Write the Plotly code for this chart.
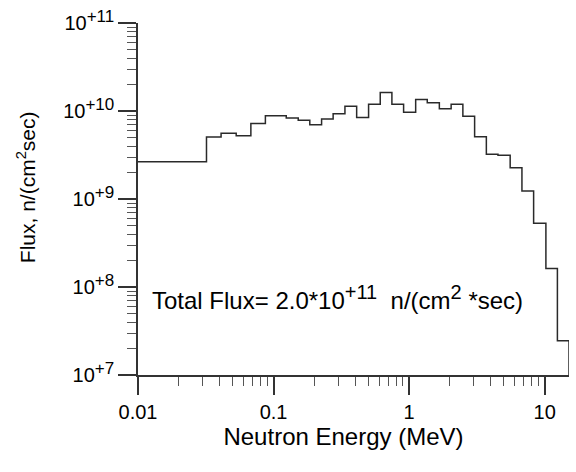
import plotly.graph_objects as go
import numpy as np

# Bin edges (MeV) and flux per bin n/(cm^2 sec)
edges = [0.01, 0.032, 0.041, 0.053, 0.068, 0.087, 0.124, 0.152, 0.185, 0.226,
         0.275, 0.336, 0.41, 0.502, 0.612, 0.746, 0.91, 1.117, 1.36, 1.67,
         2.04, 2.49, 3.04, 3.71, 4.52, 5.56, 6.79, 8.28, 10.2, 12.4, 15.1]
flux = [2.65e9, 5.06e9, 5.6e9, 5.24e9, 7.2e9, 8.85e9, 8.3e9, 7.85e9, 6.97e9,
        8.13e9, 9.33e9, 1.13e10, 8.42e9, 1.19e10, 1.62e10, 1.19e10, 9.66e9,
        1.35e10, 1.24e10, 1.06e10, 1.19e10, 8.71e9, 5.1e9, 3.22e9, 3.15e9,
        2.27e9, 1.23e9, 5.3e8, 1.62e8, 2.45e7]
baseline = 1e7

x_tick_vals = [0.01, 0.1, 1, 10]
x_tick_text = ["0.01", "0.1", "1", "10"]
y_tick_vals = [1e7, 1e8, 1e9, 1e10, 1e11]
y_exponents = ["+7", "+8", "+9", "+10", "+11"]
y_tick_text = ['10<sup><span style="font-size:17px">%s</span></sup>' % e for e in y_exponents]

xs = edges[:-1] + [edges[-1], edges[-1]]
ys = flux + [flux[-1], baseline]

x_minor = [m * 10.0 ** d for d in range(-2, 2) for m in range(2, 10) if m * 10.0 ** d <= 15.1]
y_minor = [m * 10.0 ** d for d in range(7, 11) for m in range(2, 10)]

FONT = "Liberation Sans, Arial, sans-serif"
LC = "#333333"

fig = go.Figure()
fig.add_trace(go.Scatter(x=xs, y=ys, mode="lines", line=dict(shape="hv", color="#2a2a2a", width=1.5),
                         showlegend=False, hoverinfo="skip"))

fig.update_layout(
    width=576, height=472,
    margin=dict(l=138, r=7, t=19, b=97),
    paper_bgcolor="white", plot_bgcolor="white",
    font=dict(family=FONT, color="black", size=20),
    xaxis=dict(type="log", range=[np.log10(0.01), np.log10(15.1)],
               tickmode="array", tickvals=x_tick_vals, ticktext=x_tick_text,
               ticks="outside", ticklen=18, tickwidth=1.5, tickcolor=LC,
               showline=True, linecolor=LC, linewidth=1.5, showgrid=False, zeroline=False,
               tickfont=dict(size=20),
               minor=dict(tickmode="array", tickvals=x_minor, ticks="outside", ticklen=9,
                          tickwidth=1.3, tickcolor="#555555", showgrid=False),
               title=dict(text="Neutron Energy (MeV)&nbsp;&nbsp;&nbsp;", font=dict(size=24), standoff=5)),
    yaxis=dict(type="log", range=[7, 11],
               tickmode="array", tickvals=y_tick_vals, ticktext=y_tick_text,
               ticks="outside", ticklen=18, tickwidth=1.5, tickcolor=LC,
               showline=True, linecolor=LC, linewidth=1.5, showgrid=False, zeroline=False,
               tickfont=dict(size=20),
               minor=dict(tickmode="array", tickvals=y_minor, ticks="outside", ticklen=9,
                          tickwidth=1.3, tickcolor="#555555", showgrid=False),
               title=dict(text="&nbsp;&nbsp;&nbsp;&nbsp;Flux, n/(cm<sup>2</sup>sec)", font=dict(size=21), standoff=22)),
    annotations=[dict(
        text='Total Flux= 2.0*10<sup><span style="font-size:20px">+11</span></sup>&nbsp; n/(cm<sup><span style="font-size:20px">2</span></sup> *sec)',
        xref="paper", yref="paper", x=0.029, y=0.22, xanchor="left", yanchor="middle",
        showarrow=False, font=dict(size=24, color="black"))],
)

fig.write_html("out.html")
